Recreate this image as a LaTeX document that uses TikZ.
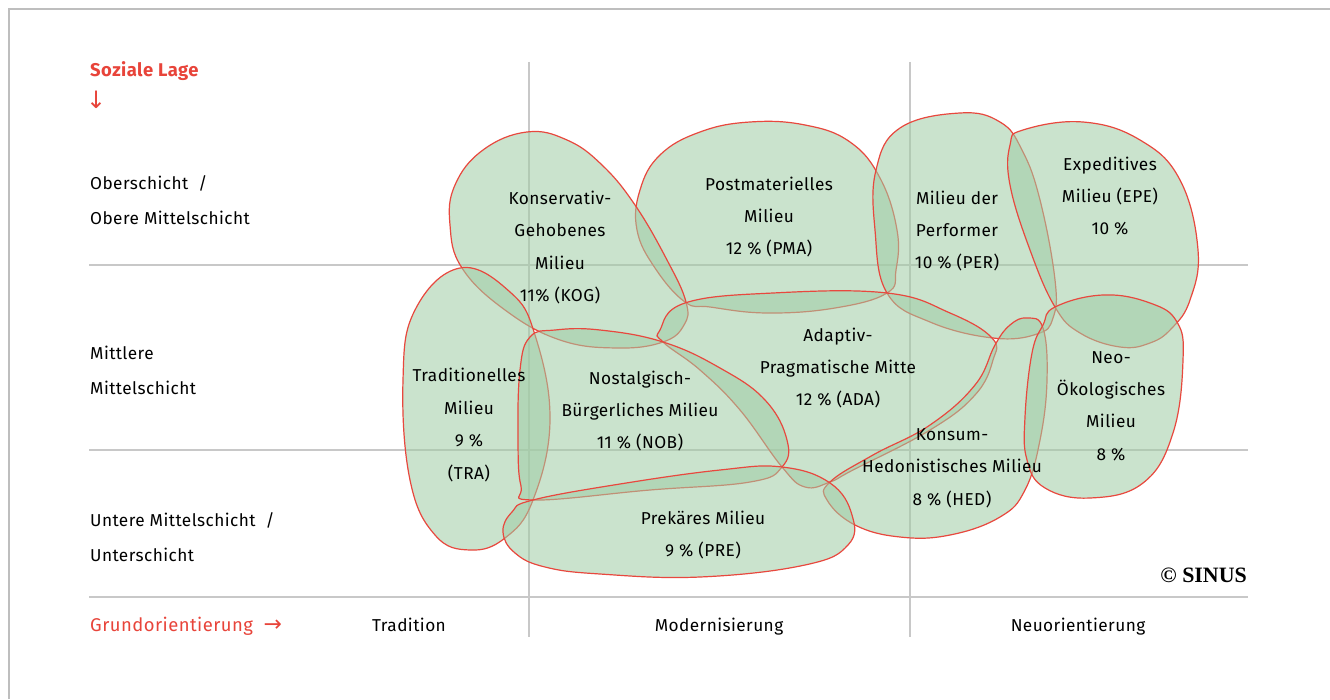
\documentclass[tikz,border=0pt]{standalone}
\usepackage{fontspec}
\setmainfont{Fira Sans}[LetterSpace=2.5]
\newfontfamily\serifbold{Liberation Serif}
\newfontfamily\arrowfont{DejaVu Sans}
\definecolor{sred}{RGB}{232,72,62}
\definecolor{sgreen}{RGB}{160,204,165}
\definecolor{gridgray}{RGB}{200,200,200}
\definecolor{framegray}{RGB}{190,190,190}
\definecolor{lblred}{RGB}{232,68,58}
\begin{document}
\begin{tikzpicture}[x=1bp,y=-1bp,
  blob/.style={draw=sred, line width=1.2bp, fill=sgreen, fill opacity=0.55, draw opacity=1},
  gridline/.style={draw=gridgray, line width=1.3bp},
  lbl/.style={align=center, font=\fontsize{17.3}{32.5}\selectfont, text=black, inner sep=0pt},
  axislbl/.style={anchor=base west, font=\fontsize{17.3}{20}\selectfont, inner sep=0pt},
  collbl/.style={anchor=base, font=\fontsize{17.3}{20}\selectfont, inner sep=0pt},
  redlbl/.style={anchor=base west, font=\fontsize{18.5}{22}\selectfont, text=lblred, inner sep=0pt},
]
\useasboundingbox (0,0) rectangle (1330,699);
\fill[white] (0,0) rectangle (1330,699);
\draw[framegray, line width=1.5bp] (9,699) -- (9,9) -- (1330,9);

% grid
\coordinate (h1a) at (89,265); \coordinate (h1b) at (1248,265);
\coordinate (h2a) at (89,450); \coordinate (h2b) at (1248,450);
\coordinate (h3a) at (89,597); \coordinate (h3b) at (1248,597);
\coordinate (v1a) at (529,62); \coordinate (v1b) at (529,637);
\coordinate (v2a) at (910,62); \coordinate (v2b) at (910,637);
\draw[gridline] (h1a) -- (h1b);
\draw[gridline] (h2a) -- (h2b);
\draw[gridline, line width=2.2bp] (h3a) -- (h3b);
\draw[gridline] (v1a) -- (v1b);
\draw[gridline] (v2a) -- (v2b);

% blobs
% PMA
\draw[blob] plot[smooth cycle, tension=0.7] coordinates {(685,302) (655,268) (637,230) (640,190) (660,155) (700,132) (750,122) (805,125) (850,142) (880,178) (897,230) (896,270) (887,293) (835,308) (767,313) (710,307)};
% KOG
\draw[blob] plot[smooth cycle, tension=0.7] coordinates {(450,225) (455,185) (483,150) (527,132) (567,140) (602,165) (635,205) (667,260) (686,302) (684,325) (663,342) (617,348) (560,340) (505,310) (462,268)};
% TRA
\draw[blob] plot[smooth cycle, tension=0.7] coordinates {(460,268) (510,292) (535,335) (550,420) (533,500) (505,538) (470,550) (435,535) (410,480) (403,380) (415,310)};
% PER
\draw[blob] plot[smooth cycle, tension=0.7] coordinates {(887,293) (875,230) (876,170) (900,128) (960,113) (1000,122) (1022,150) (1040,200) (1055,280) (1053,318) (1037,334) (993,338) (930,322)};
% EPE
\draw[blob] plot[smooth cycle, tension=0.7] coordinates {(1023,130) (1083,122) (1140,140) (1180,180) (1198,250) (1190,300) (1172,328) (1150,343) (1120,347) (1080,333) (1055,307) (1030,250) (1010,185) (1010,145)};
% ADA
\draw[blob] plot[smooth cycle, tension=0.7] coordinates {(660,330) (685,303) (773,293) (887,293) (950,313) (992,338) (993,360) (975,395) (930,430) (853,470) (830,482) (805,487) (782,467) (740,410) (700,370) (663,342)};
% NOB
\draw[blob] plot[smooth cycle, tension=0.7] coordinates {(530,337) (555,330) (600,330) (663,342) (720,368) (765,400) (787,440) (782,467) (750,482) (650,490) (533,500) (521,486) (518,440) (520,370)};
% HED
\draw[blob] plot[smooth cycle, tension=0.7] coordinates {(830,482) (873,455) (930,425) (975,385) (995,345) (1010,325) (1027,318) (1043,328) (1047,380) (1040,440) (1025,490) (1000,517) (950,535) (900,537) (855,525) (827,500)};
% NEO
\draw[blob] plot[smooth cycle, tension=0.7] coordinates {(1055,307) (1103,295) (1150,303) (1177,322) (1183,360) (1173,433) (1143,483) (1090,498) (1045,488) (1027,460) (1025,417) (1032,353) (1043,325)};
% PRE
\draw[blob] plot[smooth cycle, tension=0.7] coordinates {(533,500) (620,484) (720,470) (782,467) (830,483) (852,515) (848,545) (805,565) (700,577) (600,574) (545,567) (515,553) (503,532) (512,512)};

% blob labels
\node[lbl] (kog) at (560,247.5) {Konservativ-\\Gehobenes\\Milieu\\11\% (KOG)};
\node[lbl] (pma) at (769,217) {Postmaterielles\\Milieu\\12 \% (PMA)};
\node[lbl] (per) at (957,231) {Milieu der\\Performer\\10 \% (PER)};
\node[lbl] (epe) at (1110,196) {Expeditives\\Milieu (EPE)\\10 \%};
\node[lbl] (tra) at (469,425) {Traditionelles\\Milieu\\9 \%\\(TRA)};
\node[lbl] (nob) at (640,411) {Nostalgisch-\\Bürgerliches Milieu\\11 \% (NOB)};
\node[lbl] (ada) at (838,368) {Adaptiv-\\Pragmatische Mitte\\12 \% (ADA)};
\node[lbl] (hed) at (952,468) {Konsum-\\Hedonistisches Milieu\\8 \% (HED)};
\node[lbl] (neo) at (1111,406) {Neo-\\Ökologisches\\Milieu\\8 \%};
\node[lbl] (pre) at (703,535) {Prekäres Milieu\\9 \% (PRE)};

% axis labels
\node[redlbl, font=\fontsize{18.5}{22}\selectfont\bfseries] (sl) at (90,77) {Soziale Lage};
\node[anchor=base west, inner sep=0pt, text=lblred, font=\arrowfont\fontsize{24}{26}\selectfont] (sla) at (86,109) {↓};
\node[axislbl] (r1a) at (90,189) {Oberschicht~ /};
\node[axislbl] (r1b) at (90,224) {Obere Mittelschicht};
\node[axislbl] (r2a) at (90,359) {Mittlere};
\node[axislbl] (r2b) at (90,394) {Mittelschicht};
\node[axislbl] (r3a) at (90,526) {Untere Mittelschicht~ /};
\node[axislbl] (r3b) at (90,561) {Unterschicht};
\node[redlbl] (go) at (90,631) {Grundorientierung~ {\arrowfont\fontsize{22}{22}\selectfont →}};
\node[collbl] (c1) at (409,631) {Tradition};
\node[collbl] (c2) at (719,631) {Modernisierung};
\node[collbl] (c3) at (1078,631) {Neuorientierung};
\node[anchor=base east, inner sep=0pt, font=\serifbold\bfseries\fontsize{22}{24}\selectfont] (cp) at (1247,582) {© SINUS};
\end{tikzpicture}
\end{document}
